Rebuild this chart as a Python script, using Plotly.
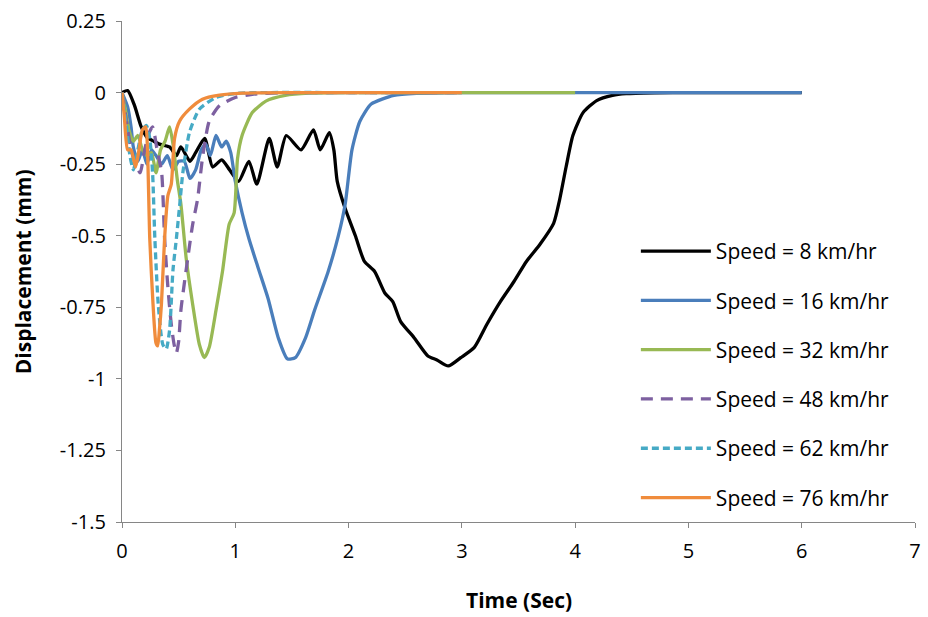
import plotly.graph_objects as go

# ---------------- data ----------------
t_8 = [0, 0.05, 0.11, 0.17, 0.22, 0.28, 0.33, 0.42, 0.48, 0.52, 0.6, 0.65, 0.73, 0.8, 0.88,
       0.95, 1.03, 1.12, 1.19, 1.3, 1.37, 1.45, 1.58, 1.69, 1.75, 1.83, 1.87, 1.9, 1.97, 2.06,
       2.14, 2.23, 2.32, 2.39, 2.46, 2.58, 2.7, 2.78, 2.88, 2.99, 3.11, 3.22, 3.34, 3.46, 3.57,
       3.69, 3.81, 3.86, 3.92, 3.98, 4.07, 4.19, 4.33, 4.45, 4.7, 5.0, 6.0]
d_8 = [0, 0.007, -0.045, -0.12, -0.156, -0.17, -0.18, -0.19, -0.22, -0.19, -0.24, -0.21, -0.16,
       -0.26, -0.235, -0.27, -0.31, -0.24, -0.32, -0.16, -0.26, -0.15, -0.2, -0.13, -0.2, -0.14,
       -0.2, -0.31, -0.405, -0.5, -0.59, -0.625, -0.70, -0.73, -0.80, -0.857, -0.92, -0.934,
       -0.955, -0.926, -0.89, -0.81, -0.73, -0.66, -0.59, -0.53, -0.457, -0.38, -0.26, -0.15,
       -0.07, -0.028, -0.01, -0.004, -0.001, 0, 0]

t_16 = [0, 0.05, 0.08, 0.1, 0.14, 0.18, 0.22, 0.26, 0.3, 0.35, 0.4, 0.45, 0.5, 0.55, 0.6,
        0.65, 0.7, 0.74, 0.78, 0.83, 0.88, 0.92, 0.96, 1.0, 1.06, 1.12, 1.2, 1.29, 1.38, 1.46,
        1.53, 1.62, 1.7, 1.82, 1.91, 1.97, 2.03, 2.1, 2.2, 2.4, 2.6, 3.0, 6.0]
d_16 = [0, -0.05, -0.12, -0.19, -0.24, -0.2, -0.25, -0.2, -0.22, -0.25, -0.22, -0.27, -0.24,
        -0.24, -0.3, -0.27, -0.2, -0.18, -0.22, -0.15, -0.19, -0.17, -0.21, -0.31, -0.42, -0.51,
        -0.61, -0.72, -0.857, -0.93, -0.926, -0.857, -0.76, -0.625, -0.5, -0.39, -0.2, -0.1,
        -0.04, -0.01, -0.003, 0, 0]

t_32 = [0, 0.03, 0.06, 0.1, 0.14, 0.18, 0.22, 0.26, 0.3, 0.34, 0.38, 0.42, 0.45, 0.49, 0.52,
        0.567, 0.624, 0.683, 0.727, 0.77, 0.83, 0.887, 0.946, 0.99, 1.02, 1.06, 1.15, 1.27, 1.44,
        1.65, 2.0, 4.0]
d_32 = [0, -0.06, -0.13, -0.17, -0.15, -0.2, -0.22, -0.21, -0.28, -0.2, -0.17, -0.12, -0.18,
        -0.31, -0.39, -0.58, -0.74, -0.88, -0.926, -0.89, -0.76, -0.625, -0.46, -0.42, -0.23,
        -0.15, -0.07, -0.03, -0.01, -0.002, 0, 0]

t_48 = [0, 0.04, 0.08, 0.12, 0.16, 0.2, 0.24, 0.27, 0.31, 0.35, 0.376, 0.405, 0.435, 0.46, 0.48,
        0.5, 0.52, 0.58, 0.624, 0.668, 0.71, 0.77, 0.86, 1.0, 1.15, 1.4, 2.0, 3.0]
d_48 = [0, -0.1, -0.2, -0.25, -0.28, -0.2, -0.14, -0.12, -0.2, -0.28, -0.51, -0.68, -0.81, -0.88,
        -0.91, -0.87, -0.76, -0.58, -0.46, -0.37, -0.23, -0.10, -0.046, -0.017, -0.006, -0.001,
        0, 0]

t_62 = [0, 0.04, 0.07, 0.1, 0.14, 0.18, 0.216, 0.245, 0.27, 0.29, 0.32, 0.36, 0.39, 0.42, 0.45,
        0.48, 0.51, 0.537, 0.595, 0.683, 0.83, 1.0, 1.3, 2.0, 3.0]
d_62 = [0, -0.12, -0.22, -0.27, -0.2, -0.13, -0.115, -0.16, -0.28, -0.51, -0.74, -0.88, -0.896,
        -0.83, -0.62, -0.51, -0.39, -0.28, -0.14, -0.058, -0.017, -0.003, 0, 0, 0]

t_76 = [0, 0.02, 0.05, 0.08, 0.12, 0.15, 0.18, 0.21, 0.225, 0.245, 0.274, 0.3, 0.315, 0.33,
        0.348, 0.376, 0.405, 0.435, 0.464, 0.508, 0.595, 0.71, 0.86, 1.06, 1.5, 3.0]
d_76 = [0, -0.08, -0.2, -0.2, -0.26, -0.2, -0.13, -0.12, -0.2, -0.51, -0.74, -0.875, -0.885,
        -0.83, -0.74, -0.51, -0.36, -0.32, -0.16, -0.10, -0.058, -0.023, -0.009, -0.002, 0, 0]

series_names = ["Speed = 8 km/hr", "Speed = 16 km/hr", "Speed = 32 km/hr",
                "Speed = 48 km/hr", "Speed = 62 km/hr", "Speed = 76 km/hr"]
series_t = [t_8, t_16, t_32, t_48, t_62, t_76]
series_d = [d_8, d_16, d_32, d_48, d_62, d_76]
colors = ["#000000", "#4A7EBB", "#98B954", "#7D60A0", "#46AAC5", "#F08C3C"]
dashes = ["solid", "solid", "solid", "12px,8px", "7px,4px", "solid"]

y_tickvals = [0.25, 0, -0.25, -0.5, -0.75, -1, -1.25, -1.5]
y_ticktext = ["0.25", "0", "-0.25", "-0.5", "-0.75", "-1", "-1.25", "-1.5"]
x_tickvals = [0, 1, 2, 3, 4, 5, 6, 7]

FONT = "Open Sans"

fig = go.Figure()
for i, (name, t, d) in enumerate(zip(series_names, series_t, series_d)):
    fig.add_trace(go.Scatter(
        x=t, y=d, mode="lines", name=name, legendgroup=f"g{i}",
        line=dict(color=colors[i], width=3.3, dash=dashes[i], shape="spline", smoothing=0.6),
    ))

axis_color = "#868686"
fig.update_layout(
    width=928, height=617,
    margin=dict(l=122, r=7, t=17, b=95),
    paper_bgcolor="white", plot_bgcolor="white",
    font=dict(family=FONT, color="#000000"),
    showlegend=True,
    legend=dict(
        x=0.648, y=0.581, xanchor="left", yanchor="top",
        font=dict(size=21, family=FONT, color="#000000"),
        itemwidth=70, tracegroupgap=19,
        bgcolor="rgba(0,0,0,0)",
    ),
    xaxis=dict(
        range=[0, 7], tickvals=x_tickvals, showgrid=False, zeroline=False,
        showline=True, linecolor=axis_color, linewidth=1.3,
        ticks="outside", ticklen=5, tickcolor=axis_color, tickwidth=1.3,
        tickfont=dict(size=20, family=FONT), ticklabelstandoff=6,
    ),
    yaxis=dict(
        range=[-1.5, 0.25], tickvals=y_tickvals, ticktext=y_ticktext,
        showgrid=False, zeroline=False,
        showline=True, linecolor=axis_color, linewidth=1.3,
        ticks="outside", ticklen=5, tickcolor=axis_color, tickwidth=1.3,
        tickfont=dict(size=20, family=FONT), ticklabelstandoff=6,
    ),
    annotations=[
        dict(text="<b>Time (Sec)</b>", x=0.5, y=-0.155, xref="paper", yref="paper",
             xanchor="center", yanchor="middle", showarrow=False,
             font=dict(size=21, family=FONT)),
        dict(text="<b>Displacement (mm)</b>", x=(22 - 122) / (928 - 122 - 7), y=0.5,
             xref="paper", yref="paper",
             xanchor="center", yanchor="middle", showarrow=False, textangle=-90,
             font=dict(size=21, family=FONT)),
    ],
)

fig.write_html(
    "out.html",
    config={"displayModeBar": False},
    post_script="document.body.style.margin='0';document.body.style.overflow='hidden';",
)
